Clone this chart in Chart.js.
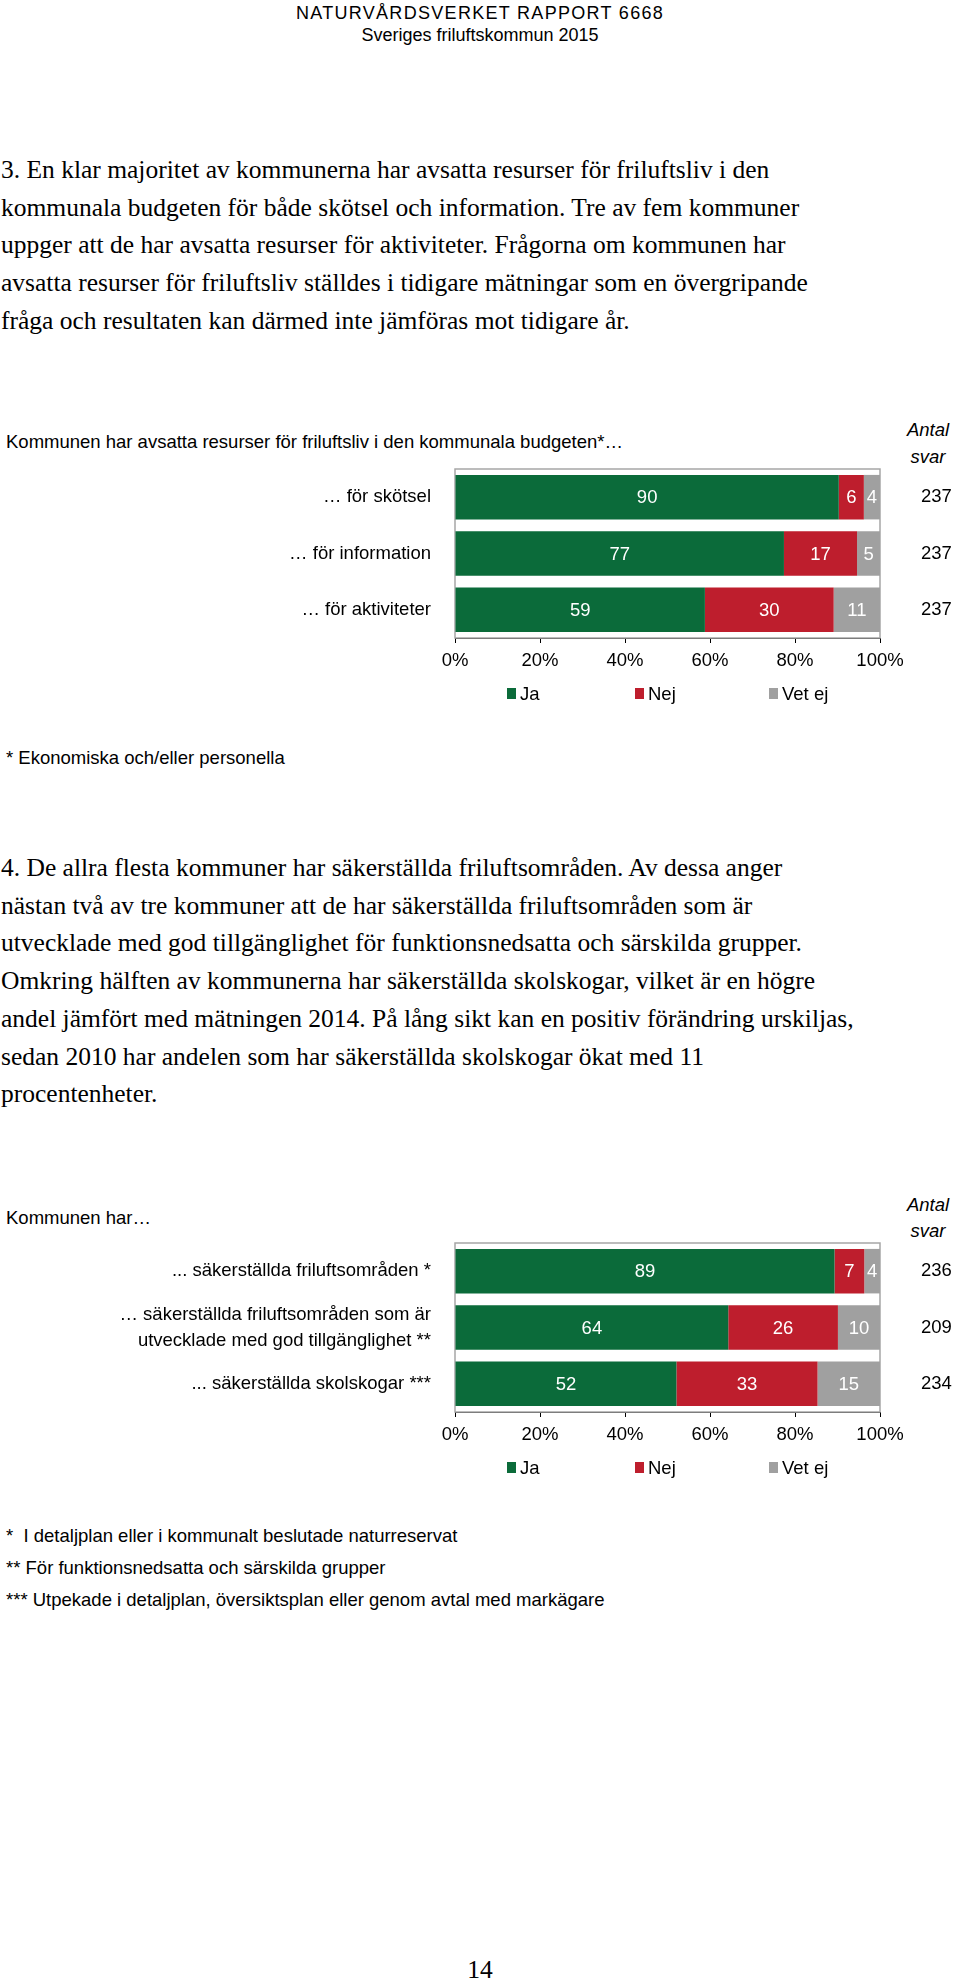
<!DOCTYPE html>
<html lang="sv">
<head>
<meta charset="utf-8">
<script src="https://cdn.jsdelivr.net/npm/chart.js@4/dist/chart.umd.min.js"></script>
<style>
  html, body { margin: 0; padding: 0; background: #fff; }
  body { position: relative; width: 960px; height: 1980px; overflow: hidden; color: #000; }
  .t { position: absolute; white-space: nowrap; }
  .serif { font-family: "Liberation Serif", "Times New Roman", serif; font-size: 25.5px; line-height: 37.7px; }
  .sans { font-family: "Liberation Sans", Arial, sans-serif; font-size: 18.5px; line-height: 22px; }
  canvas { position: absolute; left: 0; }
</style>
</head>
<body>

<div class="t sans" style="left:0;width:960px;top:2px;text-align:center;font-size:18px">
  <span style="letter-spacing:1.3px">NATURVÅRDSVERKET RAPPORT 6668</span><br>Sveriges friluftskommun 2015
</div>

<div class="t serif" style="left:1px;top:151px">
3. En klar majoritet av kommunerna har avsatta resurser för friluftsliv i den<br>
kommunala budgeten för både skötsel och information. Tre av fem kommuner<br>
uppger att de har avsatta resurser för aktiviteter. Frågorna om kommunen har<br>
avsatta resurser för friluftsliv ställdes i tidigare mätningar som en övergripande<br>
fråga och resultaten kan därmed inte jämföras mot tidigare år.
</div>

<div class="t sans" style="left:6px;top:431px">Kommunen har avsatta resurser för friluftsliv i den kommunala budgeten*…</div>
<div class="t sans" style="left:888px;width:80px;top:417px;line-height:26.5px;text-align:center;font-style:italic">Antal<br>svar</div>
<canvas id="chart1" width="960" height="260" style="top:460px"></canvas>
<div class="t sans" style="left:6px;top:747px">* Ekonomiska och/eller personella</div>

<div class="t serif" style="left:1px;top:849px">
4. De allra flesta kommuner har säkerställda friluftsområden. Av dessa anger<br>
nästan två av tre kommuner att de har säkerställda friluftsområden som är<br>
utvecklade med god tillgänglighet för funktionsnedsatta och särskilda grupper.<br>
Omkring hälften av kommunerna har säkerställda skolskogar, vilket är en högre<br>
andel jämfört med mätningen 2014. På lång sikt kan en positiv förändring urskiljas,<br>
sedan 2010 har andelen som har säkerställda skolskogar ökat med 11<br>
procentenheter.
</div>

<div class="t sans" style="left:6px;top:1207px">Kommunen har…</div>
<div class="t sans" style="left:888px;width:80px;top:1192px;line-height:25.5px;text-align:center;font-style:italic">Antal<br>svar</div>
<canvas id="chart2" width="960" height="260" style="top:1234px"></canvas>
<div class="t sans" style="left:6px;top:1520px;line-height:32px">
*&nbsp;&nbsp;I detaljplan eller i kommunalt beslutade naturreservat<br>
** För funktionsnedsatta och särskilda grupper<br>
*** Utpekade i detaljplan, översiktsplan eller genom avtal med markägare
</div>

<div class="t serif" style="left:0;width:960px;top:1951px;text-align:center">14</div>

<script>
// Diagram 1 : resurser i budgeten (andelar i %, etiketterna avrundas)
const kategorier1 = ['… för skötsel', '… för information', '… för aktiviteter'];
const ja1 = [90.3, 77.4, 58.8];
const nej1 = [5.9, 17.2, 30.3];
const vetej1 = [3.8, 5.4, 10.9];
const antal1 = ['237', '237', '237'];

// Diagram 2 : säkerställda områden
const kategorier2 = [
  '... säkerställda friluftsområden *',
  ['… säkerställda friluftsområden som är', 'utvecklade med god tillgänglighet **'],
  '... säkerställda skolskogar ***'
];
const ja2 = [89.3, 64.3, 52.1];
const nej2 = [7.0, 25.8, 33.2];
const vetej2 = [3.7, 9.9, 14.7];
const antal2 = ['236', '209', '234'];

const serieNamn = ['Ja', 'Nej', 'Vet ej'];
const farger = ['#0b6b3a', '#be1e2d', '#a0a0a0'];
const xTicks = [0, 20, 40, 60, 80, 100];

Chart.defaults.font.family = '"Liberation Sans", Arial, sans-serif';
Chart.defaults.font.size = 18.5;
Chart.defaults.color = '#000';

// ram runt ritytan
const ramPlugin = {
  id: 'ram',
  beforeDatasetsDraw(chart) {
    const a = chart.chartArea, ctx = chart.ctx;
    ctx.save();
    ctx.strokeStyle = '#a6a6a6';
    ctx.lineWidth = 1.5;
    ctx.strokeRect(a.left, a.top, a.right - a.left, a.bottom - a.top);
    ctx.restore();
  }
};

// värden inne i staplarna
const vardePlugin = {
  id: 'varden',
  afterDatasetsDraw(chart) {
    const ctx = chart.ctx;
    ctx.save();
    ctx.fillStyle = '#fff';
    ctx.font = '18.5px "Liberation Sans", Arial, sans-serif';
    ctx.textAlign = 'center';
    ctx.textBaseline = 'middle';
    chart.data.datasets.forEach((ds, i) => {
      chart.getDatasetMeta(i).data.forEach((bar, j) => {
        ctx.fillText(String(Math.round(ds.data[j])), (bar.x + bar.base) / 2, bar.y + 1);
      });
    });
    ctx.restore();
  }
};

// egen förklaring under axeln
const legendPlugin = {
  id: 'forklaring',
  afterDraw(chart) {
    const ctx = chart.ctx, a = chart.chartArea;
    const start = [52, 180, 314];
    const y = a.bottom + 55.5;
    ctx.save();
    ctx.font = '18.5px "Liberation Sans", Arial, sans-serif';
    ctx.textBaseline = 'middle';
    chart.data.datasets.forEach((ds, i) => {
      const x = a.left + start[i];
      ctx.fillStyle = ds.backgroundColor;
      ctx.fillRect(x, y - 5.5, 9, 11);
      ctx.fillStyle = '#000';
      ctx.fillText(ds.label, x + 13, y + 1);
    });
    ctx.restore();
  }
};

// fast bredd, ingen extra marginal ovan/under för y-axlarna
function fastBredd(w) {
  return s => { s.width = w; s.paddingTop = 0; s.paddingBottom = 0; };
}

function skapa_diagram(id, kategorier, serier, antal, radhojd) {
  const ctx = document.getElementById(id).getContext('2d');
  new Chart(ctx, {
    type: 'bar',
    data: {
      labels: kategorier,
      datasets: serier.map((d, i) => ({
        label: serieNamn[i],
        data: d,
        backgroundColor: farger[i],
        borderWidth: 0,
        categoryPercentage: 1,
        barPercentage: 0.79
      }))
    },
    options: {
      indexAxis: 'y',
      responsive: false,
      animation: false,
      layout: { padding: { top: 9, bottom: 42, left: 0, right: 0 } },
      plugins: { legend: { display: false }, tooltip: { enabled: false } },
      scales: {
        x: {
          stacked: true,
          min: 0,
          max: 100,
          afterBuildTicks: s => { s.ticks = xTicks.map(v => ({ value: v })); },
          ticks: { callback: v => v + '%', padding: 7, maxRotation: 0 },
          grid: { drawOnChartArea: false, tickLength: 5, color: '#000' },
          border: { display: true, color: '#000' },
          afterFit: s => { s.height = 40; }
        },
        y: {
          stacked: true,
          grid: { display: false },
          border: { display: false },
          ticks: { padding: 16, autoSkip: false, font: { lineHeight: radhojd } },
          afterFit: fastBredd(455)
        },
        y2: {
          type: 'category',
          labels: antal,
          position: 'right',
          offset: true,
          grid: { display: false },
          border: { display: false },
          ticks: { crossAlign: 'near', padding: 33, autoSkip: false },
          afterFit: fastBredd(80)
        }
      }
    },
    plugins: [ramPlugin, vardePlugin, legendPlugin]
  });
}

skapa_diagram('chart1', kategorier1, [ja1, nej1, vetej1], antal1, 1.2);
skapa_diagram('chart2', kategorier2, [ja2, nej2, vetej2], antal2, 1.4);
</script>
</body>
</html>
